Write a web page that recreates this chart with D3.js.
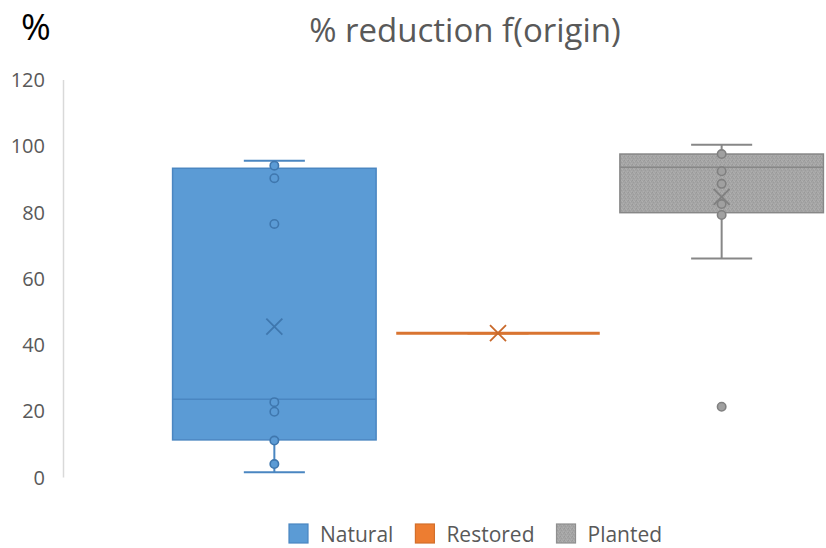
<!DOCTYPE html>
<html>
<head>
<meta charset="utf-8">
<script src="https://cdn.jsdelivr.net/npm/d3@7"></script>
<style>
  html, body { margin: 0; padding: 0; background: #fff; overflow: hidden; }
  svg { display: block; font-family: "Open Sans", sans-serif; }
</style>
</head>
<body>
<svg id="chart" width="826" height="548"></svg>
<script>
// Box-and-whisker summary per origin
const series       = ["Natural", "Restored", "Planted"];
const whiskerLow   = [1.4, 43.4, 66.0];
const quartile1    = [11.2, 43.4, 79.8];
const medians      = [23.5, 43.4, 93.5];
const quartile3    = [93.2, 43.4, 97.5];
const whiskerHigh  = [95.5, 43.4, 100.3];
const means        = [45.4, 43.4, 84.6];

// Individual observations drawn as circles
const naturalPoints  = [94.0, 90.2, 76.4, 22.6, 19.7, 11.0, 3.9];
const restoredPoints = [];
const plantedPoints  = [97.5, 92.3, 88.5, 82.4, 79.1, 21.2];

const yTicks = [0, 20, 40, 60, 80, 100, 120];

const fills   = { Natural: "#5B9BD5", Restored: "#ED7D31", Planted: "url(#stipple)" };
const strokes = { Natural: "#4A86C1", Restored: "#D36F2B", Planted: "#878787" };
const marks   = { Natural: "#3F77AE", Restored: "#C9692B", Planted: "#808080" };
const dotFill = { Natural: "#5B9BD5", Restored: "#ED7D31", Planted: "#A0A0A0" };

const svg = d3.select("#chart");

// stippled grey texture for the Planted series
const defs = svg.append("defs");
const pat = defs.append("pattern")
  .attr("id", "stipple").attr("patternUnits", "userSpaceOnUse")
  .attr("width", 4).attr("height", 4);
pat.append("rect").attr("width", 4).attr("height", 4).attr("fill", "#A5A5A5");
[[0,0,"#989898"],[2,1,"#B0B0B0"],[1,2,"#9C9C9C"],[3,3,"#AEAEAE"],[3,1,"#9E9E9E"],[1,0,"#ADADAD"]]
  .forEach(([px, py, c]) => pat.append("rect").attr("x", px).attr("y", py)
    .attr("width", 1).attr("height", 1).attr("fill", c));

const y = d3.scaleLinear().domain([0, 120]).range([477, 79.5]);
const x = d3.scaleBand().domain(series).range([63, 933])
  .paddingInner(0.09).paddingOuter(0.49);

// title and unit label
svg.append("text").attr("x", 465).attr("y", 42).attr("text-anchor", "middle")
  .attr("font-size", 33).attr("fill", "#595959").text("% reduction f(origin)");
svg.append("text").attr("x", 21).attr("y", 40)
  .attr("font-size", 36).attr("fill", "#000").text("%");

// vertical value axis
const axis = svg.append("g").attr("transform", "translate(63,0)")
  .call(d3.axisLeft(y).tickValues(yTicks).tickSize(0).tickPadding(18));
axis.select(".domain").attr("stroke", "#D9D9D9").attr("stroke-width", 1.5);
axis.selectAll("text").attr("font-family", "Open Sans, sans-serif")
  .attr("font-size", 20).attr("fill", "#595959").attr("dy", "0.36em");

const pointsBySeries = { Natural: naturalPoints, Restored: restoredPoints, Planted: plantedPoints };

series.forEach((s, i) => {
  const g = svg.append("g");
  const x0 = x(s), bw = x.bandwidth(), cx = x0 + bw / 2;
  const capHalf = bw * 0.15;

  // whiskers
  g.append("line").attr("x1", cx).attr("x2", cx)
    .attr("y1", y(quartile3[i])).attr("y2", y(whiskerHigh[i]))
    .attr("stroke", strokes[s]).attr("stroke-width", 2);
  g.append("line").attr("x1", cx).attr("x2", cx)
    .attr("y1", y(quartile1[i])).attr("y2", y(whiskerLow[i]))
    .attr("stroke", strokes[s]).attr("stroke-width", 2);
  [whiskerHigh[i], whiskerLow[i]].forEach(v => {
    g.append("line").attr("x1", cx - capHalf).attr("x2", cx + capHalf)
      .attr("y1", y(v)).attr("y2", y(v))
      .attr("stroke", strokes[s]).attr("stroke-width", 2);
  });

  // box
  const top = y(quartile3[i]), bot = y(quartile1[i]);
  if (bot - top > 0.5) {
    g.append("rect").attr("x", x0).attr("y", top).attr("width", bw)
      .attr("height", bot - top).attr("fill", fills[s])
      .attr("stroke", strokes[s]).attr("stroke-width", 1.5);
  }
  g.append("line").attr("x1", x0).attr("x2", x0 + bw)
    .attr("y1", y(medians[i])).attr("y2", y(medians[i]))
    .attr("stroke", s === "Restored" ? "#D97431" : strokes[s])
    .attr("stroke-width", s === "Restored" ? 2.8 : 1.5);

  // observations
  g.selectAll("circle").data(pointsBySeries[s]).join("circle")
    .attr("cx", cx).attr("cy", d => y(d)).attr("r", 4.2)
    .attr("fill", dotFill[s]).attr("stroke", marks[s]).attr("stroke-width", 1.6);

  // mean marker
  const my = y(means[i]), m = 8;
  g.append("path")
    .attr("d", `M${cx - m},${my - m}L${cx + m},${my + m}M${cx - m},${my + m}L${cx + m},${my - m}`)
    .attr("stroke", marks[s]).attr("stroke-width", 1.8).attr("fill", "none");
});

// legend
const legend = svg.append("g");
const legendFill = { Natural: "#5B9BD5", Restored: "#ED7D31", Planted: "url(#stipple)" };
const legendEdge = { Natural: "#4A86C1", Restored: "#D36F2B", Planted: "#8F8F8F" };
let lx = 289;
series.forEach(s => {
  legend.append("rect").attr("x", lx).attr("y", 524).attr("width", 19).attr("height", 19)
    .attr("fill", legendFill[s]).attr("stroke", legendEdge[s]).attr("stroke-width", 1.2);
  const t = legend.append("text").attr("x", lx + 31).attr("y", 541.5)
    .attr("font-size", 21).attr("fill", "#595959").text(s);
  lx += 31 + t.node().getComputedTextLength() + 22;
});
</script>
</body>
</html>
